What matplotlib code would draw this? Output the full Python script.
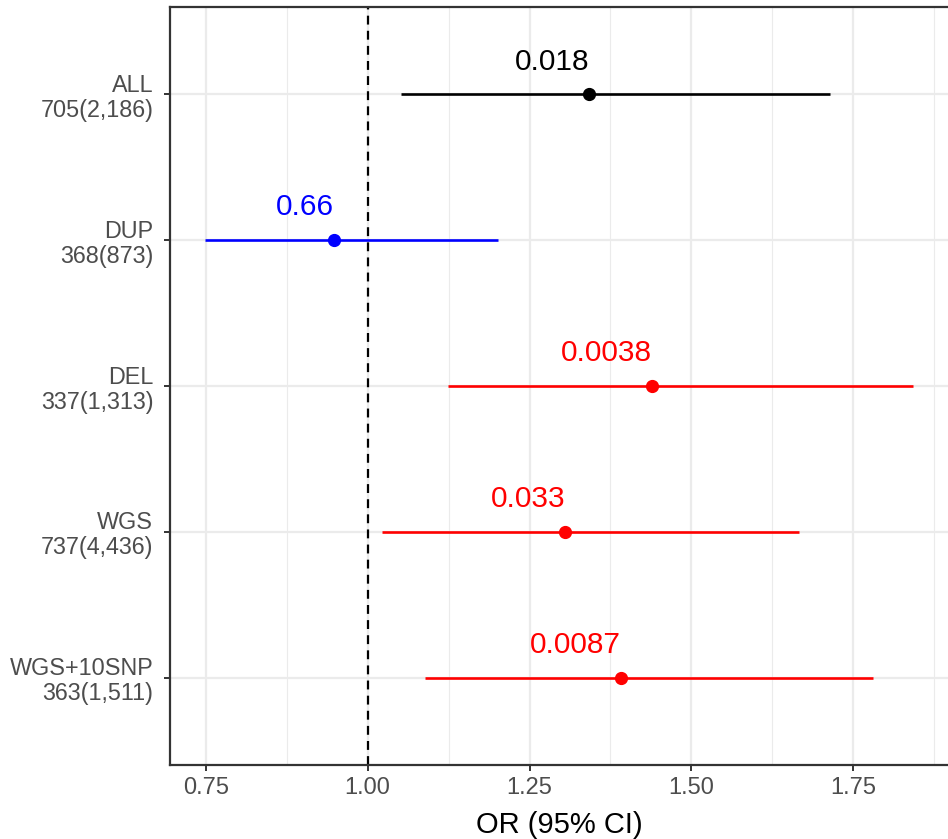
import numpy as np
import matplotlib
matplotlib.use("Agg")
import matplotlib.pyplot as plt
import matplotlib.transforms as mtransforms
from matplotlib.ticker import MultipleLocator

plt.rcParams['font.family'] = ['Liberation Sans', 'DejaVu Sans']

# forest plot values
groups = ["ALL", "DUP", "DEL", "WGS", "WGS+10SNP"]
counts = ["705(2,186)", "368(873)", "337(1,313)", "737(4,436)", "363(1,511)"]
odds_ratio = [1.342, 0.948, 1.439, 1.305, 1.391]
ci_low = [1.052, 0.749, 1.124, 1.022, 1.089]
ci_high = [1.714, 1.201, 1.842, 1.666, 1.780]
p_values = ["0.018", "0.66", "0.0038", "0.033", "0.0087"]
colors = ["#000000", "#0000FF", "#FF0000", "#FF0000", "#FF0000"]

W, H = 948, 839
fig = plt.figure(figsize=(W / 100, H / 100), dpi=100)
ax = fig.add_axes([170 / W, (H - 765) / H, (948 - 170) / W, (765 - 7) / H])

y = np.arange(len(groups))
grid_col = "#EBEBEB"

ax.set_xlim(0.695, 1.896)
ax.set_ylim(len(groups) - 0.4, -0.6)

ax.xaxis.set_major_locator(MultipleLocator(0.25))
ax.xaxis.set_minor_locator(MultipleLocator(0.125))
ax.grid(which="major", axis="both", color=grid_col, lw=1.6, zorder=0)
ax.grid(which="minor", axis="x", color=grid_col, lw=0.8, zorder=0)
ax.set_axisbelow(True)

ax.axvline(1.0, color="black", lw=1.6, ls=(0, (4, 2.8)), zorder=2)

for i in range(len(groups)):
    ax.plot([ci_low[i], ci_high[i]], [y[i], y[i]], color=colors[i], lw=1.9,
            solid_capstyle="butt", zorder=3)
    ax.plot(odds_ratio[i], y[i], "o", color=colors[i], ms=8.5, zorder=4)
    ax.text(odds_ratio[i], y[i] - 0.225, p_values[i], color=colors[i],
            fontsize=21.5, ha="right", va="center", zorder=5)

ax.set_yticks(y)
ax.set_yticklabels([g + "\n" + c for g, c in zip(groups, counts)],
                   ha="right", linespacing=1.12)
# nudge the two-line labels up a little
shift = mtransforms.ScaledTranslation(0, 3 / 100, fig.dpi_scale_trans)
for lab in ax.get_yticklabels():
    lab.set_transform(lab.get_transform() + shift)

ax.set_xticks([0.75, 1.0, 1.25, 1.5, 1.75])
ax.set_xticklabels(["0.75", "1.00", "1.25", "1.50", "1.75"])

ax.tick_params(axis="both", which="major", labelcolor="#4D4D4D",
               color="#333333", length=4, width=1.4)
ax.tick_params(axis="y", labelsize=16.8, pad=8)
ax.tick_params(axis="x", labelsize=17, pad=5)
ax.tick_params(which="minor", length=0)

for side in ["left", "bottom", "top", "right"]:
    ax.spines[side].set_color("#333333")
    ax.spines[side].set_linewidth(1.6)
ax.spines["right"].set_visible(False)

ax.set_xlabel("OR (95% CI)", fontsize=21, color="black", labelpad=8)

fig.savefig("out.png", dpi=100)
